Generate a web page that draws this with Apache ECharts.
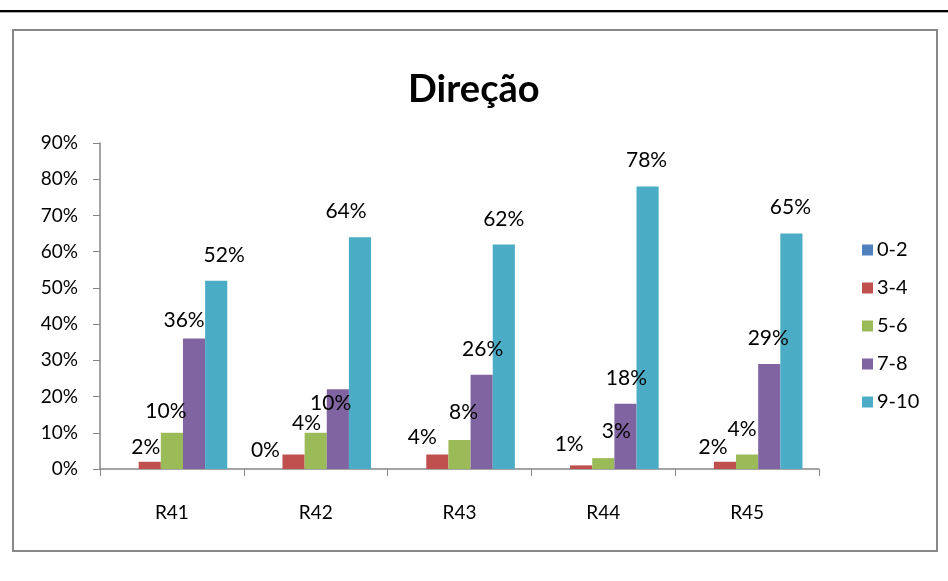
<!DOCTYPE html>
<html>
<head>
<meta charset="utf-8">
<script src="https://cdn.jsdelivr.net/npm/echarts@6/dist/echarts.min.js"></script>
<style>
  html, body { margin: 0; padding: 0; background: #fff; }
  #chart { width: 948px; height: 581px; }
</style>
</head>
<body>
<div id="chart"></div>
<script>
const categories = ['R41', 'R42', 'R43', 'R44', 'R45']
const seriesNames = ['0-2', '3-4', '5-6', '7-8', '9-10']
const values02 = [0, 0, 0, 0, 0]
const values34 = [2, 4, 4, 1, 2]
const values56 = [10, 10, 8, 3, 4]
const values78 = [36, 22, 26, 18, 29]
const values910 = [52, 64, 62, 78, 65]
const yTicks = [0, 10, 20, 30, 40, 50, 60, 70, 80, 90]

const colors = ['#4F81BD', '#C0504D', '#9BBB59', '#8064A2', '#4BACC6']
const font = 'Lato, "Open Sans", sans-serif'

// label nudges, as placed by hand in the original sheet (null = no label)
const labelNudge = [
  [null, [-6, 7], null, null, null],
  [[-4, 11], [13, -6], [-15, 8], [-12, 4], [-12, 11]],
  [[-6, 4], [15, -4], [4, -2], [13, -1], [-5, 0]],
  [[-10, 7], null, [1, 0], [1, 0], [-1, 0]],
  [[8, 0], [-14, 0], [0, 0], [-1, -1], [-1, -1]],
]

const allValues = [values02, values34, values56, values78, values910]

const series = allValues.map((vals, si) => ({
  name: seriesNames[si],
  type: 'bar',
  barGap: 0,
  barCategoryGap: '23%',
  itemStyle: { color: colors[si] },
  data: vals.map((v, ci) => {
    const nudge = labelNudge[si][ci]
    return {
      value: v,
      label: nudge
        ? { show: true, offset: nudge }
        : { show: false },
    }
  }),
  label: {
    position: 'top',
    distance: 15,
    formatter: '{c}%',
    color: '#000',
    fontFamily: font,
    fontSize: 21,
  },
}))

const chart = echarts.init(document.getElementById('chart'), null, { renderer: 'canvas' })
chart.setOption({
  animation: false,
  backgroundColor: '#fff',
  title: {
    text: 'Direção',
    left: 403,
    top: 66,
    textStyle: { fontFamily: font, fontWeight: 'bold', fontSize: 38, color: '#000' },
  },
  legend: {
    orient: 'vertical',
    left: 857,
    top: 235,
    itemWidth: 11,
    itemHeight: 11,
    itemGap: 18,
    icon: 'rect',
    textStyle: { fontFamily: font, fontSize: 20, color: '#000', lineHeight: 20, padding: [0, 0, 0, -1] },
    data: seriesNames,
  },
  grid: { left: 100, right: 129, top: 143, bottom: 112 },
  xAxis: {
    type: 'category',
    data: categories,
    axisLine: { lineStyle: { color: '#868686', width: 1.5 } },
    axisTick: { show: true, length: 7, lineStyle: { color: '#868686' } },
    axisLabel: { color: '#000', fontFamily: font, fontSize: 19, margin: 34 },
  },
  yAxis: {
    type: 'value',
    min: yTicks[0],
    max: yTicks[yTicks.length - 1],
    interval: 10,
    axisLine: { show: true, lineStyle: { color: '#868686', width: 1.5 } },
    axisTick: { show: true, length: 7, lineStyle: { color: '#868686' } },
    splitLine: { show: false },
    axisLabel: { color: '#000', fontFamily: font, fontSize: 19, margin: 22, formatter: '{value}%' },
  },
  graphic: [
    { type: 'rect', shape: { x: 0, y: 10, width: 948, height: 2 }, style: { fill: '#000' } },
    { type: 'rect', shape: { x: 0, y: 12, width: 948, height: 1 }, style: { fill: '#aaa' } },
    {
      type: 'rect',
      shape: { x: 13, y: 30, width: 924, height: 521 },
      style: { fill: 'none', stroke: '#888', lineWidth: 2 },
      z: -1,
    },
  ],
  series,
})
</script>
</body>
</html>
